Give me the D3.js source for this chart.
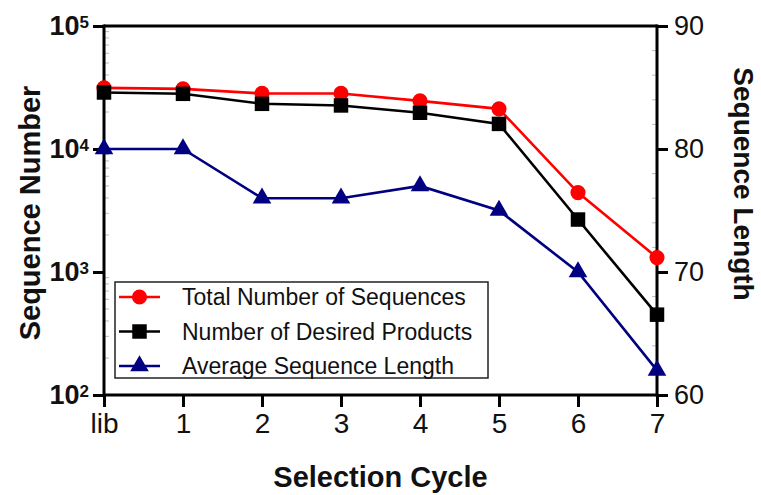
<!DOCTYPE html>
<html>
<head>
<meta charset="utf-8">
<script src="https://cdn.jsdelivr.net/npm/d3@7"></script>
<style>
  body { margin: 0; background: #fff; }
  svg { font-family: Arial, "Liberation Sans", sans-serif; }
</style>
</head>
<body>
<div id="container"></div>
<script>
// data
var cycles = ["lib", "1", "2", "3", "4", "5", "6", "7"];
var totalSeqs = [31400, 30800, 28300, 28300, 24600, 21200, 4420, 1310];
var desiredProducts = [28800, 28100, 23300, 22600, 19700, 16000, 2670, 450];
var avgLength = [80, 80, 76, 76, 77, 75, 70, 62];
var leftTicks = [100, 1000, 10000, 100000];
var rightTicks = [60, 70, 80, 90];

var width = 761, height = 495;
var margin = { top: 26, right: 104, bottom: 100, left: 104 };
var x0 = margin.left, x1 = width - margin.right;
var y0 = height - margin.bottom, y1 = margin.top;

var x = d3.scalePoint().domain(cycles).range([x0, x1]);
var yL = d3.scaleLog().domain([100, 100000]).range([y0, y1]);
var yR = d3.scaleLinear().domain([60, 90]).range([y0, y1]);

var svg = d3.select('#container').append('svg')
    .attr('width', width).attr('height', height);

// faint minor ticks
var minorL = [];
[100, 1000, 10000].forEach(function (d) {
    for (var k = 2; k < 10; k++) minorL.push(d * k);
});
svg.append('g').selectAll('line').data(minorL).enter().append('line')
    .attr('x1', x0).attr('x2', x0 + 5)
    .attr('y1', function (d) { return yL(d); }).attr('y2', function (d) { return yL(d); })
    .attr('stroke', '#bbb').attr('stroke-width', 1);
var minorR = d3.range(62, 90, 2).filter(function (d) { return d % 10 != 0; });
svg.append('g').selectAll('line').data(minorR).enter().append('line')
    .attr('x1', x1 - 5).attr('x2', x1)
    .attr('y1', function (d) { return yR(d); }).attr('y2', function (d) { return yR(d); })
    .attr('stroke', '#bbb').attr('stroke-width', 1);

// axes
var xAxis = d3.axisBottom(x).tickSize(12).tickPadding(6);
var gx = svg.append('g').attr('transform', 'translate(0,' + y0 + ')').call(xAxis);
gx.selectAll('text').attr('font-size', 28).attr('fill', '#111');

var yAxisL = d3.axisLeft(yL).tickValues(leftTicks).tickSize(11).tickPadding(4).tickFormat(function () { return ''; });
var gl = svg.append('g').attr('transform', 'translate(' + x0 + ',0)').call(yAxisL);
gl.selectAll('.tick text').each(function (d) {
    var t = d3.select(this).attr('font-size', 27).attr('font-weight', 'bold').attr('fill', '#111');
    t.append('tspan').text('10');
    t.append('tspan').text(Math.round(Math.log10(d))).attr('font-size', 17).attr('dy', '-0.45em');
});

var yAxisR = d3.axisRight(yR).tickValues(rightTicks).tickSize(11).tickPadding(6);
var gr = svg.append('g').attr('transform', 'translate(' + x1 + ',0)').call(yAxisR);
gr.selectAll('text').attr('font-size', 27).attr('fill', '#111');

svg.selectAll('.tick line').attr('stroke-width', 3).attr('stroke', '#000');
// frame lines drawn explicitly so they meet cleanly
gx.select('.domain').remove(); gl.select('.domain').remove(); gr.select('.domain').remove();
svg.append('line').attr('x1', x0).attr('x2', x1).attr('y1', y0).attr('y2', y0).attr('stroke', '#000').attr('stroke-width', 3);
svg.append('line').attr('x1', x0).attr('x2', x1).attr('y1', y1).attr('y2', y1).attr('stroke', '#000').attr('stroke-width', 3);
svg.append('line').attr('x1', x0).attr('x2', x0).attr('y1', y1 - 1.5).attr('y2', y0 + 1.5).attr('stroke', '#000').attr('stroke-width', 3);
svg.append('line').attr('x1', x1).attr('x2', x1).attr('y1', y1 - 1.5).attr('y2', y0 + 1.5).attr('stroke', '#000').attr('stroke-width', 3);

// axis titles
svg.append('text').attr('x', (x0 + x1) / 2).attr('y', 487).attr('text-anchor', 'middle')
    .attr('font-size', 29).attr('font-weight', 'bold').attr('fill', '#111').text('Selection Cycle');
svg.append('text').attr('transform', 'translate(40,213) rotate(-90)').attr('text-anchor', 'middle')
    .attr('font-size', 29).attr('font-weight', 'bold').attr('fill', '#111').text('Sequence Number');
svg.append('text').attr('transform', 'translate(734,184) rotate(90)').attr('text-anchor', 'middle')
    .attr('font-size', 28).attr('font-weight', 'bold').attr('fill', '#111').text('Sequence Length');

// series
var series = [
    { name: 'Total Number of Sequences', values: totalSeqs, scale: yL, color: '#ff0000', shape: d3.symbolCircle, size: 180 },
    { name: 'Number of Desired Products', values: desiredProducts, scale: yL, color: '#000000', shape: d3.symbolSquare, size: 210 },
    { name: 'Average Sequence Length', values: avgLength, scale: yR, color: '#000080', shape: d3.symbolTriangle, size: 150 }
];

series.forEach(function (s) {
    var line = d3.line()
        .x(function (d, i) { return x(cycles[i]); })
        .y(function (d) { return s.scale(d); });
    svg.append('path').datum(s.values).attr('d', line)
        .attr('fill', 'none').attr('stroke', s.color).attr('stroke-width', 2.6);
    svg.append('g').selectAll('path').data(s.values).enter().append('path')
        .attr('d', d3.symbol().type(s.shape).size(s.size))
        .attr('transform', function (d, i) { return 'translate(' + x(cycles[i]) + ',' + s.scale(d) + ')'; })
        .attr('fill', s.color);
});

// legend
var lg = svg.append('g');
lg.append('rect').attr('x', 115).attr('y', 282).attr('width', 373).attr('height', 96)
    .attr('fill', '#fff').attr('stroke', '#222').attr('stroke-width', 1.5);
series.forEach(function (s, i) {
    var cy = 297 + i * 34.5;
    lg.append('line').attr('x1', 119).attr('x2', 160).attr('y1', cy).attr('y2', cy)
        .attr('stroke', s.color).attr('stroke-width', 2.6);
    lg.append('path').attr('d', d3.symbol().type(s.shape).size(s.size))
        .attr('transform', 'translate(139.5,' + cy + ')').attr('fill', s.color);
    lg.append('text').attr('x', 182).attr('y', cy + 8).attr('font-size', 23).attr('fill', '#111').text(s.name);
});
</script>
</body>
</html>
